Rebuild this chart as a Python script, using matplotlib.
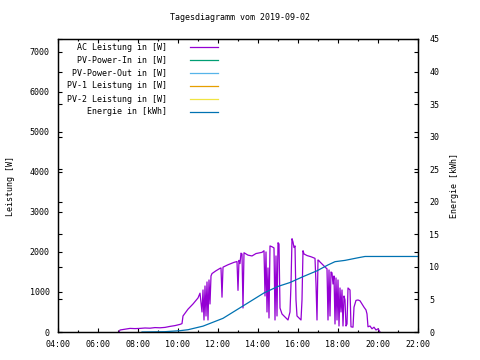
import matplotlib
matplotlib.use("Agg")
import matplotlib.pyplot as plt
import matplotlib.dates as mdates
from matplotlib.ticker import MultipleLocator
import datetime as dt

title = "Tagesdiagramm vom 2019-09-02"
ylabel_left = "Leistung [W]"
ylabel_right = "Energie [kWh]"
series_names = ["AC Leistung in [W]", "PV-Power-In in [W]", "PV-Power-Out in [W]",
                "PV-1 Leistung in [W]", "PV-2 Leistung in [W]", "Energie in [kWh]"]
series_colors = ["#9400d3", "#009e73", "#56b4e9", "#e69f00", "#f0e442", "#0072b2"]

ac_times = ["07:03", "07:06", "07:21", "07:36", "07:51", "08:06", "08:21", "08:36", "08:51", "09:06",
            "09:21", "09:36", "09:51", "10:06", "10:12", "10:15", "10:30", "10:45", "11:00", "11:06",
            "11:12", "11:15", "11:18", "11:21", "11:24", "11:27", "11:30", "11:33", "11:36", "11:39",
            "11:42", "11:54", "12:06", "12:09", "12:12", "12:15", "12:30", "12:48", "12:57", "13:00",
            "13:03", "13:06", "13:09", "13:12", "13:15", "13:18", "13:30", "13:42", "13:54", "14:12",
            "14:18", "14:21", "14:24", "14:27", "14:30", "14:33", "14:36", "14:42", "14:48", "14:51",
            "14:54", "14:57", "15:00", "15:03", "15:06", "15:12", "15:18", "15:24", "15:30", "15:36",
            "15:39", "15:42", "15:45", "15:48", "15:51", "15:54", "15:57", "16:03", "16:09", "16:12",
            "16:15", "16:18", "16:27", "16:39", "16:51", "16:54", "16:57", "17:00", "17:03", "17:06",
            "17:12", "17:18", "17:24", "17:27", "17:30", "17:33", "17:36", "17:39", "17:42", "17:45",
            "17:48", "17:51", "17:54", "17:57", "18:00", "18:03", "18:06", "18:09", "18:12", "18:15",
            "18:18", "18:21", "18:24", "18:27", "18:30", "18:36", "18:39", "18:45", "18:48", "18:54",
            "19:00", "19:06", "19:12", "19:18", "19:24", "19:27", "19:30", "19:36", "19:42", "19:48",
            "19:54", "20:00", "20:06"]
ac_watts = [0, 50, 70, 90, 85, 90, 100, 95, 110, 105,
            115, 140, 160, 190, 210, 400, 570, 700, 850, 970,
            500, 1050, 300, 1150, 400, 1250, 300, 1300, 700, 1400,
            1460, 1530, 1590, 1600, 870, 1620, 1680, 1740, 1760, 1040,
            1790, 1710, 1970, 1950, 600, 1980, 1920, 1900, 1960, 1990,
            2030, 900, 2000, 500, 1600, 350, 2150, 2130, 2100, 300,
            1900, 400, 2230, 2200, 600, 450, 400, 350, 300, 500,
            1200, 2330, 2250, 2110, 2150, 800, 400, 350, 300, 800,
            2030, 1950, 1910, 1880, 1840, 1200, 300, 1800, 1780, 1750,
            1700, 1650, 1600, 1580, 300, 1550, 400, 1500, 1480, 1200,
            1400, 200, 1350, 300, 1300, 150, 1100, 500, 1050, 150,
            900, 800, 150, 200, 1100, 1050, 130, 120, 620, 790,
            800, 780, 700, 620, 550, 450, 130, 150, 80, 120,
            50, 80, 0]

energy_times = ["08:12", "09:21", "10:06", "10:30", "11:15", "12:15", "13:15", "14:18", "15:00",
                "15:36", "16:15", "16:57", "17:30", "17:51", "18:21", "19:00", "19:21", "22:00"]
energy_kwh = [0.0, 0.05, 0.2, 0.35, 0.9, 2.1, 4.0, 6.0, 7.0,
              7.6, 8.5, 9.4, 10.3, 10.8, 11.0, 11.4, 11.6, 11.6]

day = dt.date(2019, 9, 2)
def to_dt(s):
    h, m = map(int, s.split(":"))
    return dt.datetime.combine(day, dt.time(h, m))

ac_x = [to_dt(t) for t in ac_times]
en_x = [to_dt(t) for t in energy_times]

plt.rcParams['font.family'] = ['DejaVu Sans Mono']
fs = 6

fig = plt.figure(figsize=(4.8, 3.6), dpi=100)
ax = fig.add_axes([58/480, 28/360, 360/480, 293/360])
ax2 = ax.twinx()

ax.plot(ac_x, ac_watts, color=series_colors[0], lw=0.9)
ax2.plot(en_x, energy_kwh, color=series_colors[5], lw=0.9)

ax.set_xlim(to_dt("04:00"), to_dt("22:00"))
ax.set_ylim(0, 7320)
ax2.set_ylim(0, 45)

ax.xaxis.set_major_locator(mdates.HourLocator(byhour=range(0, 24, 2)))
ax.xaxis.set_minor_locator(mdates.HourLocator())
ax.xaxis.set_major_formatter(mdates.DateFormatter("%H:%M"))
ax.yaxis.set_major_locator(MultipleLocator(1000))
ax2.yaxis.set_major_locator(MultipleLocator(5))

ax.tick_params(axis='both', which='major', direction='in', length=3, width=0.8,
               labelsize=fs, top=True, right=True, pad=6)
ax.tick_params(axis='x', which='minor', direction='in', length=1.5, width=0.8, top=True)
ax2.tick_params(axis='y', which='major', direction='in', length=3, width=0.8,
                labelsize=fs, left=True, pad=8)

for a in (ax, ax2):
    for sp in a.spines.values():
        sp.set_linewidth(0.9)

ax.set_ylabel(ylabel_left, fontsize=fs)
ax.yaxis.set_label_coords(-0.12, 0.5)
ax2.set_ylabel(ylabel_right, fontsize=fs, rotation=90)
ax2.yaxis.set_label_coords(1.088, 0.5)

fig.text(0.5, 1 - 18/360, title, ha='center', va='center', fontsize=fs)

# legend (gnuplot style: right-aligned text, sample line to the right)
top_y = 1 - (47 - 39) / 293
step = 13.0 / 293
for i, (name, col) in enumerate(zip(series_names, series_colors)):
    yy = top_y - i * step
    ax.text((167 - 58) / 360, yy, name, transform=ax.transAxes, ha='right', va='center', fontsize=fs)
    ax.plot([(190 - 58) / 360, (218 - 58) / 360], [yy, yy], transform=ax.transAxes,
            color=col, lw=0.9, clip_on=False)

fig.savefig("out.png", dpi=100)
